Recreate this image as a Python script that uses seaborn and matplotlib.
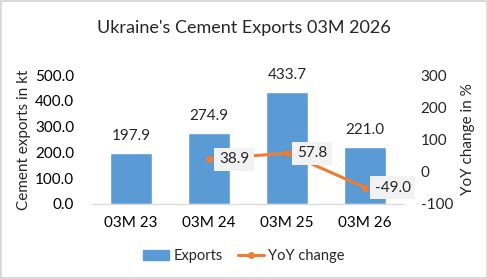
import pandas as pd
import seaborn as sns
import matplotlib.pyplot as plt
import numpy as np
from matplotlib.patches import Patch
from matplotlib.lines import Line2D

# data
periods = ['03M 23', '03M 24', '03M 25', '03M 26']
exports = [197.9, 274.9, 433.7, 221.0]
yoy = [np.nan, 38.9, 57.8, -49.0]

bar_col = '#5B9BD5'
line_col = '#ED7D31'

sns.set_style('white')
plt.rcParams['font.family'] = ['Lato', 'DejaVu Sans']
plt.rcParams['axes.unicode_minus'] = False

df = pd.DataFrame({'period': periods, 'exports': exports, 'yoy': yoy})
df['pos'] = range(len(periods))

fig = plt.figure(figsize=(4.88, 2.79), dpi=100)
fig.patch.set_edgecolor('#D9D9D9')
fig.patch.set_linewidth(1.5)
ax = fig.add_axes([0.189, 0.269, 0.639, 0.462])

sns.barplot(data=df, x='pos', y='exports', color=bar_col, width=0.54,
            saturation=1, ax=ax)
ax.bar_label(ax.containers[0], fmt='%.1f', padding=7, fontsize=11)
ax.set_ylim(0, 500)
ax.set_yticks(np.arange(0, 501, 100))
ax.set_yticklabels(['%.1f' % v for v in np.arange(0, 501, 100)])
ax.set_xlim(-0.5, 3.5)
ax.set_xticks(df['pos'])
ax.set_xticklabels(periods)
ax.set_xlabel('')
ax.set_ylabel('Cement exports in kt', fontsize=11, labelpad=3)
ax.tick_params(axis='both', length=0, labelsize=11, colors='#000000')
ax.tick_params(axis='y', pad=13)
ax.tick_params(axis='x', pad=9)

ax2 = ax.twinx()
sns.lineplot(data=df, x='pos', y='yoy', color=line_col, linewidth=2.2,
             marker='o', markersize=5, markeredgewidth=0, ax=ax2)
ax2.set_ylim(-100, 300)
ax2.set_yticks(np.arange(-100, 301, 100))
ax2.set_ylabel('YoY change in %', fontsize=11, labelpad=6)
ax2.tick_params(axis='y', length=0, labelsize=11, pad=12)

for x, v in zip(df['pos'], df['yoy']):
    if np.isnan(v):
        continue
    ax2.annotate('%.1f' % v, (x, v), xytext=(7, 0), textcoords='offset points',
                 ha='left', va='center', fontsize=11,
                 bbox=dict(boxstyle='square,pad=0.3', fc='#F2F2F2', ec='none'))

for a in (ax, ax2):
    for s in ('top', 'left', 'right'):
        a.spines[s].set_visible(False)
    a.spines['bottom'].set_color('#D9D9D9')

handles = [Patch(color=bar_col, label='Exports'),
           Line2D([0], [0], color=line_col, lw=2.2, marker='o', markersize=5,
                  markeredgewidth=0, label='YoY change')]
fig.legend(handles=handles, loc='center', bbox_to_anchor=(0.5, 0.082), ncol=2,
           frameon=False, fontsize=10.5, handlelength=1.8, columnspacing=1.0,
           handletextpad=0.3)

fig.suptitle("Ukraine's Cement Exports 03M 2026", fontsize=13, y=0.93)

fig.savefig('out.png', dpi=100)
